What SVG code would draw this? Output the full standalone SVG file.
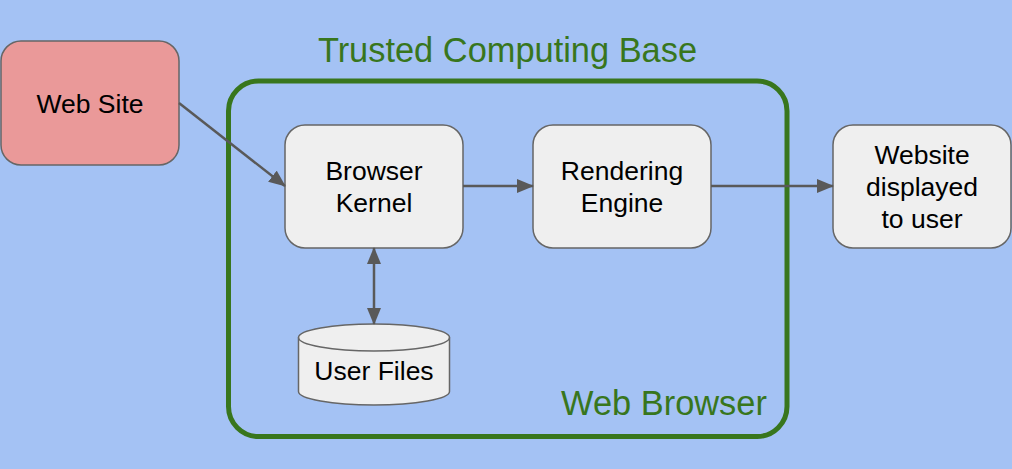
<svg xmlns="http://www.w3.org/2000/svg" width="1012" height="469" viewBox="0 0 1012 469">
<defs>
<style>
.node{fill:#efefef;stroke:#666666;stroke-width:1.5}
.lbl{font-family:"Liberation Sans",Arial,sans-serif;font-size:26.5px;fill:#000000;text-anchor:middle}
.ttl{font-family:"Liberation Sans",Arial,sans-serif;font-size:34.4px;fill:#38761d;text-anchor:middle}
.conn{stroke:#595959;stroke-width:2.5;fill:none}
</style>
<marker id="ah" viewBox="0 0 17 14" refX="16" refY="7" markerWidth="17" markerHeight="14" markerUnits="userSpaceOnUse" orient="auto-start-reverse">
<path d="M0,0 L17,7 L0,14 Z" fill="#595959"/>
</marker>
</defs>
<rect x="0" y="0" width="1012" height="469" fill="#a4c2f4"/>
<g id="web-browser">
<rect x="228.5" y="81" width="558.5" height="355.5" rx="30" ry="30" fill="none" stroke="#38761d" stroke-width="5"/>
<text class="ttl" x="664" y="415">Web Browser</text>
</g>
<g id="tcb-label">
<text class="ttl" x="507.5" y="62">Trusted Computing Base</text>
</g>
<g id="web-site">
<rect x="1" y="41" width="178" height="124" rx="20" ry="20" fill="#ea9999" stroke="#666666" stroke-width="1.5"/>
<text class="lbl" x="90" y="113">Web Site</text>
</g>
<g id="browser-kernel">
<rect class="node" x="285" y="125" width="178" height="123" rx="20" ry="20"/>
<text class="lbl" x="374" y="180">Browser</text>
<text class="lbl" x="374" y="212">Kernel</text>
</g>
<g id="rendering-engine">
<rect class="node" x="533" y="125" width="178" height="123" rx="20" ry="20"/>
<text class="lbl" x="622" y="180">Rendering</text>
<text class="lbl" x="622" y="212">Engine</text>
</g>
<g id="website-displayed">
<rect class="node" x="833" y="125" width="178" height="123" rx="20" ry="20"/>
<text class="lbl" x="922" y="164">Website</text>
<text class="lbl" x="922" y="196">displayed</text>
<text class="lbl" x="922" y="228">to user</text>
</g>
<g id="user-files">
<path class="node" d="M298.5,337.5 A75.5,13.5 0 0 1 449.5,337.5 L449.5,391.5 A75.5,13.5 0 0 1 298.5,391.5 Z"/>
<path d="M298.5,337.5 A75.5,13.5 0 0 0 449.5,337.5" fill="none" stroke="#666666" stroke-width="1.5"/>
<text class="lbl" x="374" y="380">User Files</text>
</g>
<g id="connectors">
<line class="conn" x1="179" y1="103" x2="285" y2="186" marker-end="url(#ah)"/>
<line class="conn" x1="463" y1="186" x2="533" y2="186" marker-end="url(#ah)"/>
<line class="conn" x1="711" y1="186" x2="833" y2="186" marker-end="url(#ah)"/>
<line class="conn" x1="374" y1="248" x2="374" y2="324" marker-start="url(#ah)" marker-end="url(#ah)"/>
</g>
</svg>
